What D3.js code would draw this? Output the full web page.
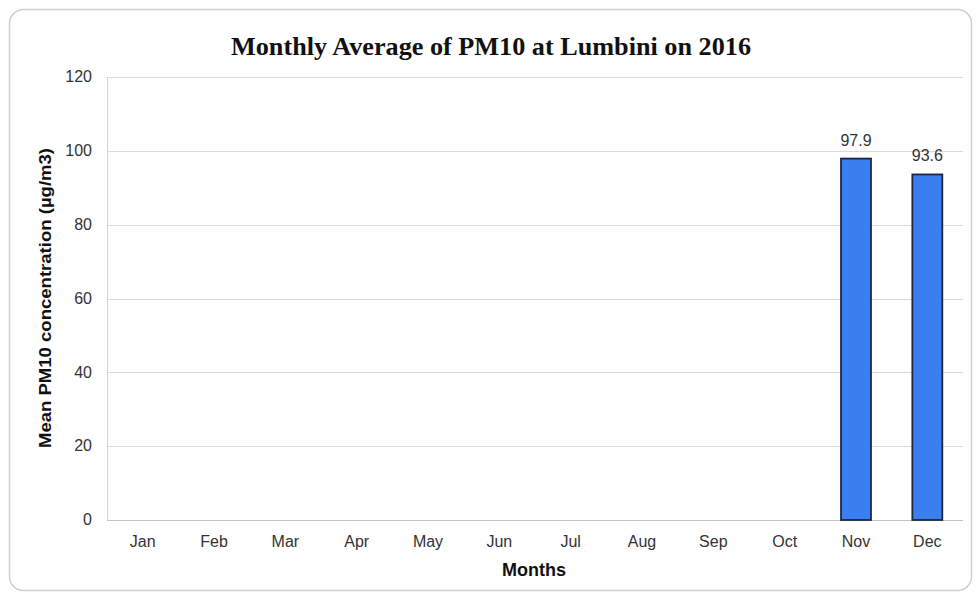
<!DOCTYPE html>
<html><head><meta charset="utf-8">
<script src="https://cdn.jsdelivr.net/npm/d3@7/dist/d3.min.js"></script>
<style>body{margin:0;background:#fff}svg{display:block}</style>
</head><body>
<script>
const months = ["Jan","Feb","Mar","Apr","May","Jun","Jul","Aug","Sep","Oct","Nov","Dec"];
const pm10 = [null,null,null,null,null,null,null,null,null,null,97.9,93.6];
const yTicks = [0,20,40,60,80,100,120];
const titleText = "Monthly Average of PM10 at Lumbini on 2016";
const yLabel = "Mean PM10 concentration (µg/m3)";
const xLabel = "Months";

const W = 978, H = 599;
const m = {left:107, right:15, top:77, bottom:79};
const sans = "Liberation Sans, Arial, sans-serif";
const svg = d3.select("body").append("svg").attr("width",W).attr("height",H);

svg.append("rect").attr("x",9.5).attr("y",9.5).attr("width",962).attr("height",581)
  .attr("rx",14).attr("fill","#fff").attr("stroke","#cfcfcf").attr("stroke-width",1.5);

const x = d3.scaleBand().domain(months).range([m.left, W-m.right]).paddingInner(0.58).paddingOuter(0.29);
const y = d3.scaleLinear().domain([0,120]).range([H-m.bottom, m.top]);

// gridlines
svg.append("g").selectAll("line").data(yTicks).join("line")
  .attr("x1",m.left).attr("x2",W-m.right)
  .attr("y1",d=>Math.round(y(d))+0.5).attr("y2",d=>Math.round(y(d))+0.5)
  .attr("stroke",d=>d===0?"#c4c4c4":"#dadada").attr("stroke-width",1);
svg.append("line").attr("x1",m.left+0.5).attr("x2",m.left+0.5)
  .attr("y1",y(120)).attr("y2",y(0)).attr("stroke","#d4d4d4");

// y axis labels
const yAxis = d3.axisLeft(y).tickValues(yTicks).tickSize(0).tickPadding(15);
const gy = svg.append("g").attr("transform",`translate(${m.left},0)`).call(yAxis);
gy.select(".domain").remove();
gy.selectAll("text").attr("font-family",sans).attr("font-size",16).attr("fill","#333").attr("dy","0.3em");

// x axis labels
const xAxis = d3.axisBottom(x).tickSize(0).tickPadding(16);
const gx = svg.append("g").attr("transform",`translate(0,${H-m.bottom})`).call(xAxis);
gx.select(".domain").remove();
gx.selectAll("text").attr("font-family",sans).attr("font-size",16).attr("fill","#333");

// bars
const data = months.map((mo,i)=>({m:mo,v:pm10[i]})).filter(d=>d.v!=null);
svg.append("g").selectAll("rect").data(data).join("rect")
  .attr("x",d=>x(d.m)).attr("width",x.bandwidth())
  .attr("y",d=>y(d.v)).attr("height",d=>y(0)-y(d.v))
  .attr("fill","#3a7ff0").attr("stroke","#1b2840").attr("stroke-width",1.8);
svg.append("g").selectAll("text").data(data).join("text")
  .attr("x",d=>x(d.m)+x.bandwidth()/2).attr("y",d=>y(d.v)-13)
  .attr("text-anchor","middle").attr("font-family",sans)
  .attr("font-size",16).attr("fill","#333").text(d=>d.v.toFixed(1));

// title
svg.append("text").attr("x",491).attr("y",55).attr("text-anchor","middle")
  .attr("font-family","Liberation Serif, serif").attr("font-weight","bold").attr("font-size",25)
  .attr("fill","#111").attr("textLength",520).attr("lengthAdjust","spacingAndGlyphs").text(titleText);

// axis titles
svg.append("text").attr("transform",`translate(51,298) rotate(-90)`).attr("text-anchor","middle")
  .attr("font-family",sans).attr("font-weight","bold").attr("font-size",16.5)
  .attr("textLength",300).attr("lengthAdjust","spacingAndGlyphs")
  .attr("fill","#111").text(yLabel);
svg.append("text").attr("x",534).attr("y",576).attr("text-anchor","middle")
  .attr("font-family",sans).attr("font-weight","bold").attr("font-size",18)
  .attr("fill","#111").text(xLabel);
</script>
</body></html>
